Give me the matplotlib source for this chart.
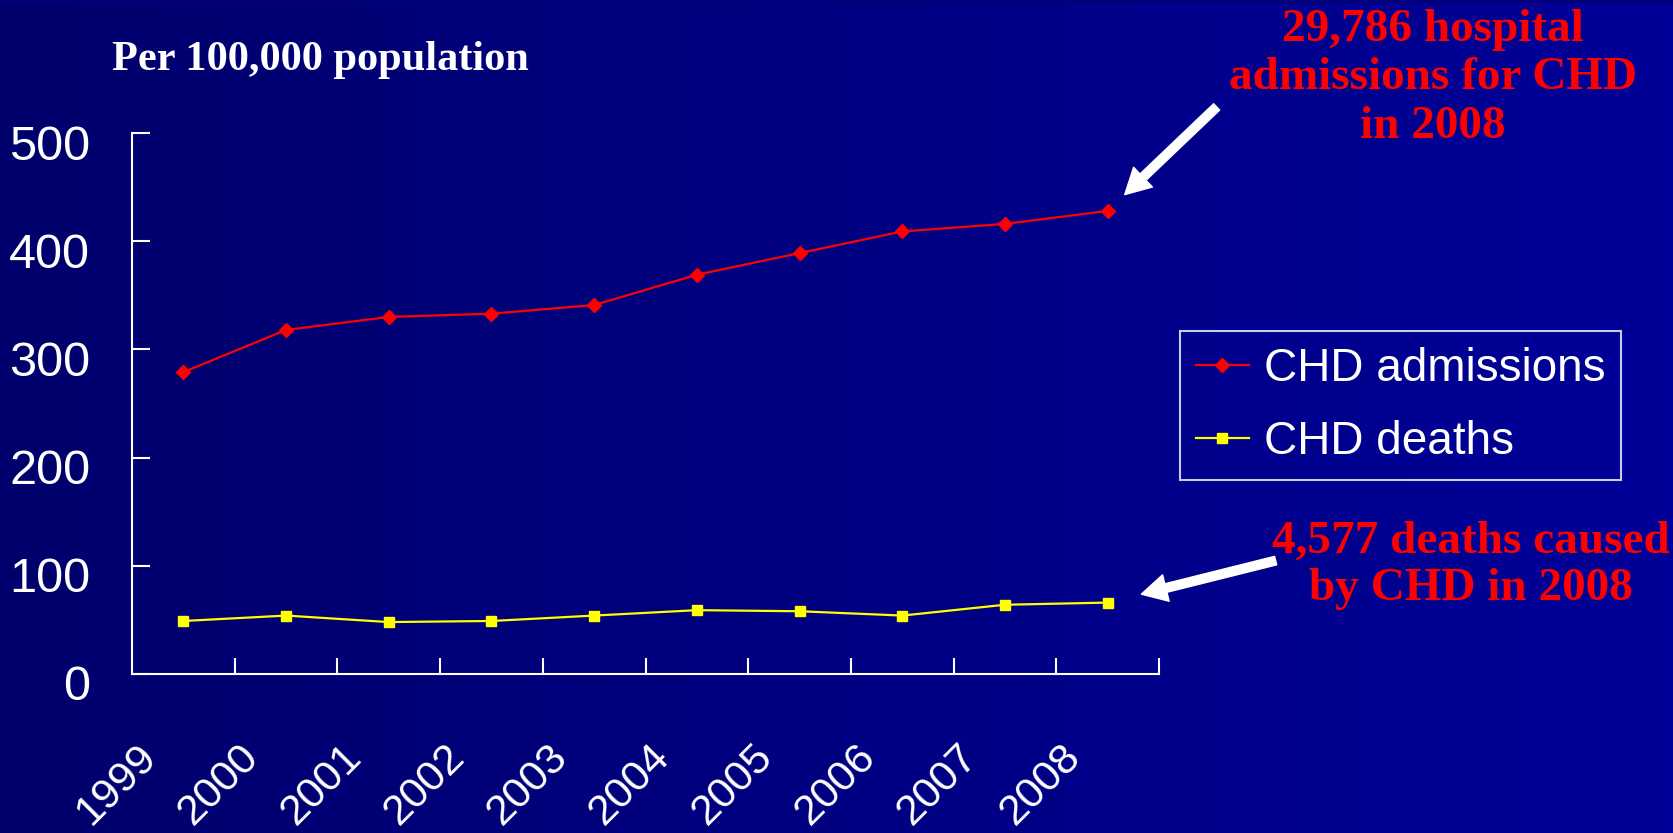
import numpy as np
import matplotlib
matplotlib.use("Agg")
import matplotlib.pyplot as plt
import matplotlib.transforms as mtrans
from matplotlib import font_manager
from matplotlib.colors import LinearSegmentedColormap

# CHD admissions and deaths per 100,000 population
years = ["1999", "2000", "2001", "2002", "2003", "2004", "2005", "2006", "2007", "2008"]
admissions = [279, 318, 330, 333, 341, 369, 389, 409, 416, 428]
deaths = [49, 54, 48, 49, 54, 59, 58, 54, 64, 66]
y_ticks = [0, 100, 200, 300, 400, 500]

SANS = ["Liberation Sans", "DejaVu Sans"]
SERIF = ["Liberation Serif", "DejaVu Serif"]
RED = "#ff0000"
YELLOW = "#ffff00"

# narrow face for the rotated year labels when it is installed
have_narrow = any(f.name == "Liberation Sans Narrow" for f in font_manager.fontManager.ttflist)
YEAR_FONT = ["Liberation Sans Narrow", "Liberation Sans"] if have_narrow else SANS
YEAR_SIZE = 36 if have_narrow else 31

fig = plt.figure(figsize=(16.74, 8.33), dpi=100)

# navy slide background, slightly brighter towards the right
bg = fig.add_axes([0, 0, 1, 1], zorder=-10)
grad = np.linspace(0, 1, 256).reshape(1, -1)
navy = LinearSegmentedColormap.from_list("navy", ["#00006c", "#000098"])
bg.imshow(grad, cmap=navy, aspect="auto", extent=[0, 1, 0, 1])
bg.add_patch(plt.Rectangle((0, 0.996), 1, 0.004, color="#000078", lw=0))
accent = LinearSegmentedColormap.from_list("accent", ["#0010b0", "#0068ff"])
bg.imshow(grad, cmap=accent, aspect="auto", extent=[0.018, 0.057, 0.996, 1.0])
bg.set_xlim(0, 1)
bg.set_ylim(0, 1)
bg.axis("off")

ax = fig.add_axes([132 / 1674, 1 - 674 / 833, (1159 - 132) / 1674, (674 - 133) / 833])
ax.set_facecolor("none")

x = np.arange(len(years))
ax.plot(x, admissions, color=RED, lw=1.6, marker="D", ms=7.5,
        mec=RED, mfc=RED, label="CHD admissions", clip_on=False)
ax.plot(x, deaths, color=YELLOW, lw=1.6, marker="s", ms=7.5,
        mec=YELLOW, mfc=YELLOW, label="CHD deaths", clip_on=False)

ax.set_xlim(-0.5, len(years) - 0.5)
ax.set_ylim(0, 500)
for side in ["top", "right"]:
    ax.spines[side].set_visible(False)
for side in ["left", "bottom"]:
    ax.spines[side].set_color("white")
    ax.spines[side].set_linewidth(1.5)

ax.set_yticks(y_ticks)
ax.set_yticklabels([str(v) for v in y_ticks])
ax.tick_params(axis="y", direction="in", length=13, width=1.5, color="white",
               labelcolor="white", labelsize=35, pad=30)
for lab in ax.get_yticklabels():
    lab.set_fontfamily(SANS)
    lab.set_transform(lab.get_transform() + mtrans.ScaledTranslation(0, -0.09, fig.dpi_scale_trans))

# year labels at the centres, tick marks on the category borders
ax.set_xticks(x)
ax.set_xticklabels(years, rotation=45, ha="right", va="center", rotation_mode="anchor")
ax.set_xticks(x + 0.5, minor=True)
ax.tick_params(axis="x", which="major", length=0, labelcolor="white", labelsize=YEAR_SIZE, pad=55)
ax.tick_params(axis="x", which="minor", direction="in", length=11.5, width=1.5, color="white")
for lab in ax.get_xticklabels():
    lab.set_fontfamily(YEAR_FONT)
    lab.set_transform(lab.get_transform() + mtrans.ScaledTranslation(-0.33, 0, fig.dpi_scale_trans))

fig.text(112 / 1674, 1 - 70 / 833, "Per 100,000 population", color="white",
         fontsize=30.5, fontweight="bold", family=SERIF, ha="left", va="baseline")

leg = ax.legend(loc="upper left", bbox_to_anchor=(1180 / 1674, 1 - 331 / 833),
                bbox_transform=fig.transFigure, borderaxespad=0, frameon=True,
                fancybox=False, handlelength=1.16, handletextpad=0.33,
                borderpad=0.34, labelspacing=0.65, prop={"family": SANS, "size": 33})
leg.get_frame().set_facecolor("none")
leg.get_frame().set_edgecolor("white")
leg.get_frame().set_linewidth(1.5)
for t in leg.get_texts():
    t.set_color("white")

# callouts for the 2008 figures
arrow = dict(arrowstyle="simple,head_width=1.4,head_length=1.3,tail_width=0.45",
             mutation_scale=14, color="white", shrinkA=0)
ax.annotate("", xy=(x[-1], admissions[-1]), xytext=(109, 104), textcoords="offset pixels",
            arrowprops=dict(arrow, shrinkB=17), annotation_clip=False)
ax.annotate("", xy=(x[-1], deaths[-1]), xytext=(168, 42), textcoords="offset pixels",
            arrowprops=dict(arrow, shrinkB=25), annotation_clip=False)

fig.text(1433 / 1674, 1 - 9 / 833, "29,786 hospital\nadmissions for CHD\nin 2008",
         color=RED, fontsize=34, fontweight="bold", family=SERIF,
         ha="center", va="top", multialignment="center", linespacing=1.2)
fig.text(1471 / 1674, 1 - 521 / 833, "4,577 deaths caused\nby CHD in 2008",
         color=RED, fontsize=34, fontweight="bold", family=SERIF,
         ha="center", va="top", multialignment="center", linespacing=1.15)

fig.savefig("out.png", dpi=100)
